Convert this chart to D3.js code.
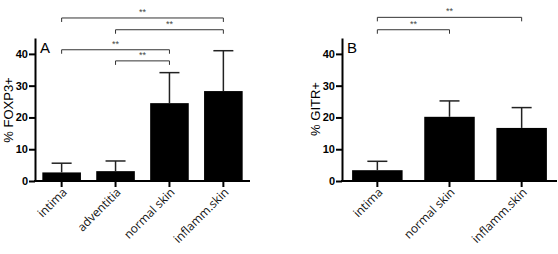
<html>
<head>
<script src="https://d3js.org/d3.v7.min.js"></script>
<style>
  body { margin: 0; background: white; }
  .ytick text { font-family: "Liberation Sans", Arial, sans-serif; font-weight: bold; font-size: 11px; }
</style>
</head>
<body>
<svg id="chart" width="558" height="254"></svg>
<script>
// panel A data
const catsA = ["intima", "adventitia", "normal skin", "inflamm.skin"];
const meanA = [2.7, 3.1, 24.5, 28.3];
const sdA = [2.9, 3.2, 9.6, 12.7];
// [from, to, height in % units]
const sigA = [[0, 3, 51.3], [1, 3, 47.6], [0, 2, 41.3], [1, 2, 37.8]];

// panel B data
const catsB = ["intima", "normal skin", "inflamm.skin"];
const meanB = [3.4, 20.2, 16.7];
const sdB = [2.8, 5.0, 6.4];
const sigB = [[0, 2, 51.5], [0, 1, 47.6]];

const yTicks = [0, 10, 20, 30, 40];

const svg = d3.select("svg#chart");

function panel(opts) {
  const g = svg.append("g");
  const y = d3.scaleLinear().domain([0, 45]).range([181, 38]);
  const x = d3.scaleBand().domain(opts.cats).range([opts.x0, opts.x1])
              .paddingInner(opts.pi).paddingOuter(opts.po);
  const cx = c => x(c) + x.bandwidth() / 2;

  // bars
  g.selectAll("rect").data(opts.cats).join("rect")
    .attr("x", d => x(d))
    .attr("width", x.bandwidth())
    .attr("y", (d, i) => y(opts.mean[i]))
    .attr("height", (d, i) => y(0) - y(opts.mean[i]))
    .attr("fill", "black");

  // error bars (upper only)
  const eb = g.selectAll("g.err").data(opts.cats).join("g").attr("class", "err");
  eb.append("line")
    .attr("x1", d => cx(d)).attr("x2", d => cx(d))
    .attr("y1", (d, i) => y(opts.mean[i]))
    .attr("y2", (d, i) => y(opts.mean[i] + opts.sd[i]))
    .attr("stroke", "#222").attr("stroke-width", 1.5);
  eb.append("line")
    .attr("x1", d => cx(d) - 10).attr("x2", d => cx(d) + 10)
    .attr("y1", (d, i) => y(opts.mean[i] + opts.sd[i]))
    .attr("y2", (d, i) => y(opts.mean[i] + opts.sd[i]))
    .attr("stroke", "#222").attr("stroke-width", 1.5);

  // y axis
  const yAxis = g.append("g")
    .attr("class", "ytick")
    .attr("transform", `translate(${opts.x0},0)`)
    .call(d3.axisLeft(y).tickValues(yTicks).tickSize(6).tickPadding(1).tickSizeOuter(0));
  yAxis.selectAll("line").attr("stroke", "black").attr("stroke-width", 2);
  yAxis.select(".domain").attr("stroke", "black").attr("stroke-width", 2);

  // x axis (ticks only, labels drawn below)
  const xAxis = g.append("g")
    .attr("transform", `translate(0,${y(0)})`)
    .call(d3.axisBottom(x).tickSize(6).tickSizeOuter(0).tickFormat(""));
  xAxis.select(".domain").attr("stroke", "black").attr("stroke-width", 2)
    .attr("d", `M${opts.x0 - 1},0H${opts.x1}`);
  xAxis.selectAll("line").attr("stroke", "black").attr("stroke-width", 2);

  // rotated category labels
  g.selectAll("text.xlab").data(opts.cats).join("text")
    .attr("class", "xlab")
    .attr("text-anchor", "end")
    .attr("transform", d => `translate(${cx(d) + 6},${y(0) + 12}) rotate(-45)`)
    .style("font-family", "Open Sans, sans-serif")
    .style("font-size", "12px")
    .attr("fill", "#111")
    .text(d => d);

  // y label
  g.append("text")
    .attr("transform", `translate(${opts.x0 - 22},${opts.labY}) rotate(-90)`)
    .attr("text-anchor", "middle")
    .style("font-family", "Liberation Sans, Arial, sans-serif")
    .style("font-size", "13px")
    .text(opts.ylabel);

  // panel letter
  g.append("text")
    .attr("x", opts.x0 + 5).attr("y", 53)
    .style("font-family", "Liberation Sans, Arial, sans-serif")
    .style("font-size", "15px")
    .text(opts.letter);

  // significance brackets
  opts.sig.forEach(s => {
    const xa = cx(opts.cats[s[0]]), xb = cx(opts.cats[s[1]]), yy = y(s[2]);
    g.append("path")
      .attr("d", `M${xa},${yy + 4}V${yy}H${xb}V${yy + 4}`)
      .attr("fill", "none").attr("stroke", "#333").attr("stroke-width", 1);
    g.append("text")
      .attr("x", (xa + xb) / 2).attr("y", yy - 3)
      .attr("text-anchor", "middle")
      .style("font-family", "Liberation Sans, Arial, sans-serif")
      .style("font-size", "9px").attr("fill", "#444")
      .text("**");
  });
}

panel({cats: catsA, mean: meanA, sd: sdA, sig: sigA, x0: 35, x1: 250, pi: 0.284, po: 0.136,
       ylabel: "% FOXP3+", labY: 110, letter: "A"});
panel({cats: catsB, mean: meanB, sd: sdB, sig: sigB, x0: 342, x1: 557, pi: 0.30, po: 0.14,
       ylabel: "% GITR+", labY: 109, letter: "B"});
</script>
</body>
</html>
